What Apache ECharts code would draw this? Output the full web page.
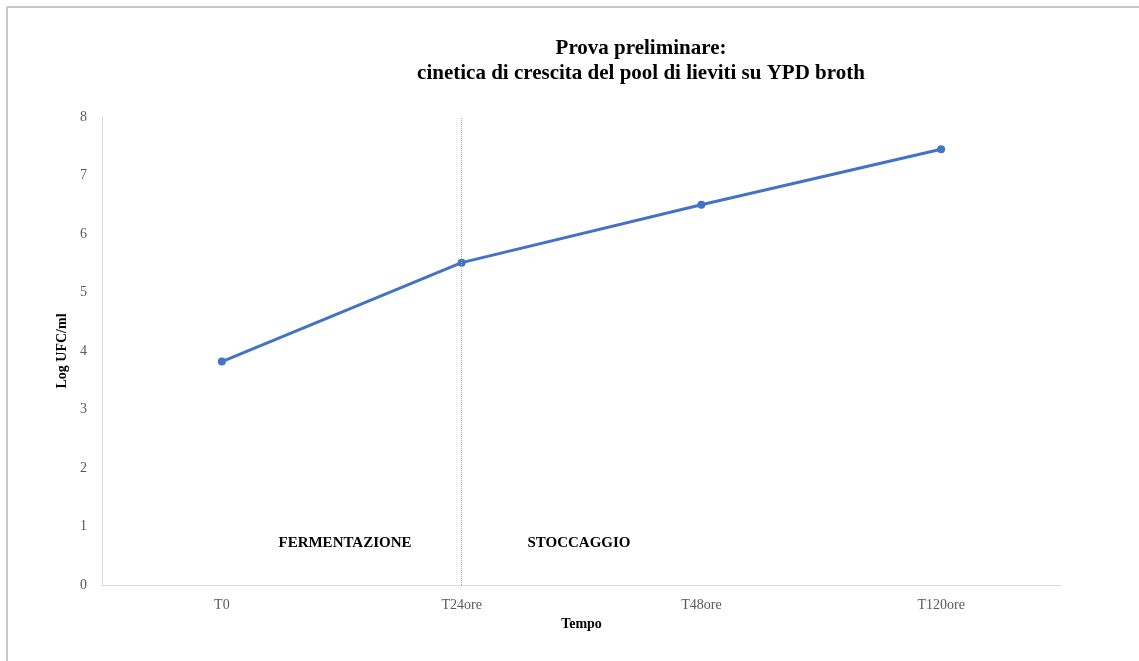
<!DOCTYPE html>
<html>
<head>
<meta charset="utf-8">
<script src="https://cdn.jsdelivr.net/npm/echarts@6/dist/echarts.min.js"></script>
<style>
  html, body { margin: 0; padding: 0; background: #fff; }
  #chart { width: 1139px; height: 661px; }
</style>
</head>
<body>
<div id="chart"></div>
<script>
// Sampling times and yeast counts (log UFC/ml)
const tempi = ['T0', 'T24ore', 'T48ore', 'T120ore'];
const logUfc = [3.82, 5.51, 6.50, 7.45];
const yTicks = [0, 1, 2, 3, 4, 5, 6, 7, 8];
const fasi = ['FERMENTAZIONE', 'STOCCAGGIO'];

const serif = '"Liberation Serif", "Times New Roman", serif';
const chart = echarts.init(document.getElementById('chart'));

chart.setOption({
  animation: false,
  backgroundColor: '#fff',
  title: {
    text: 'Prova preliminare:\ncinetica di crescita del pool di lieviti su YPD broth',
    left: 636,
    top: 31,
    textAlign: 'center',
    textStyle: {
      fontFamily: serif,
      fontWeight: 'bold',
      fontSize: 21,
      lineHeight: 25,
      color: '#000'
    }
  },
  grid: { left: 102, right: 78, top: 117, bottom: 76 },
  xAxis: {
    type: 'category',
    data: tempi,
    boundaryGap: true,
    name: 'Tempo',
    nameLocation: 'middle',
    nameGap: 31,
    nameTextStyle: { fontFamily: serif, fontWeight: 'bold', fontSize: 14, color: '#000' },
    axisLine: { lineStyle: { color: '#d9d9d9', width: 1 } },
    axisTick: { show: false },
    axisLabel: { fontFamily: serif, fontSize: 14, color: '#595959', margin: 13 },
    splitLine: { show: false }
  },
  yAxis: {
    type: 'value',
    min: yTicks[0],
    max: yTicks[yTicks.length - 1],
    interval: 1,
    name: 'Log UFC/ml',
    nameLocation: 'middle',
    nameGap: 27,
    nameRotate: 90,
    nameTextStyle: { fontFamily: serif, fontWeight: 'bold', fontSize: 14, color: '#000' },
    axisLine: { show: true, lineStyle: { color: '#d9d9d9', width: 1 } },
    axisTick: { show: false },
    axisLabel: { fontFamily: serif, fontSize: 14, color: '#595959', margin: 15 },
    splitLine: { show: false }
  },
  series: [{
    type: 'line',
    data: logUfc,
    symbol: 'circle',
    symbolSize: 8,
    lineStyle: { color: '#4472C4', width: 3 },
    itemStyle: { color: '#4472C4' },
    markLine: {
      silent: true,
      symbol: 'none',
      label: { show: false },
      lineStyle: { color: '#a6a6a6', type: [1, 1], width: 1 },
      data: [{ xAxis: tempi[1] }]
    }
  }],
  graphic: [
    { type: 'line', shape: { x1: 7, y1: 7, x2: 1139, y2: 7 }, style: { stroke: '#c8c8c8', lineWidth: 2 } },
    { type: 'line', shape: { x1: 7, y1: 7, x2: 7, y2: 661 }, style: { stroke: '#c8c8c8', lineWidth: 2 } },
    { type: 'text', x: 345, y: 543, style: { text: fasi[0], fontFamily: serif, fontWeight: 'bold', fontSize: 15, fill: '#000', align: 'center', verticalAlign: 'middle' } },
    { type: 'text', x: 579, y: 543, style: { text: fasi[1], fontFamily: serif, fontWeight: 'bold', fontSize: 15, fill: '#000', align: 'center', verticalAlign: 'middle' } }
  ]
});
</script>
</body>
</html>
